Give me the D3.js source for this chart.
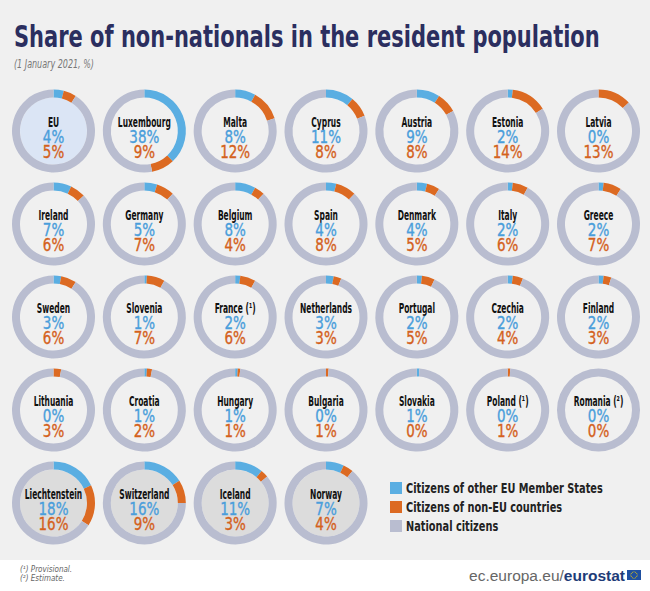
<!DOCTYPE html>
<html lang="en">
  <head>
    <meta charset="utf-8" />
    <title>Share of non-nationals</title>
    <script src="https://d3js.org/d3.v7.min.js"></script>
    <style>
      body {
        margin: 0;
        background: #fff;
      }
      text {
        font-family: "Liberation Sans Narrow", "Arial Narrow", "DejaVu Sans Condensed", sans-serif;
      }
      .title {
        font-weight: bold;
        fill: #2b2e5f;
      }
      .subtitle {
        font-style: italic;
        fill: #777;
      }
      .name {
        font-weight: bold;
        fill: #111;
      }
      .legend-text {
        font-weight: bold;
        fill: #222;
      }
    </style>
  </head>
  <body>
    <svg id="chart" width="650" height="591"></svg>
    <script>
      // data
      const countries = [
        "EU", "Luxembourg", "Malta", "Cyprus", "Austria", "Estonia", "Latvia",
        "Ireland", "Germany", "Belgium", "Spain", "Denmark", "Italy", "Greece",
        "Sweden", "Slovenia", "France (¹)", "Netherlands", "Portugal", "Czechia", "Finland",
        "Lithuania", "Croatia", "Hungary", "Bulgaria", "Slovakia", "Poland (¹)", "Romania (²)",
        "Liechtenstein", "Switzerland", "Iceland", "Norway"
      ];
      const otherEU = [
        4, 38, 8, 11, 9, 2, 0,
        7, 5, 8, 4, 4, 2, 2,
        3, 1, 2, 3, 2, 2, 2,
        0, 1, 1, 0, 1, 0, 0,
        18, 16, 11, 7
      ];
      const nonEU = [
        5, 9, 12, 8, 8, 14, 13,
        6, 7, 4, 8, 5, 6, 7,
        6, 7, 6, 3, 5, 4, 3,
        3, 2, 1, 1, 0, 1, 0,
        16, 9, 3, 4
      ];
      const groupOf = countries.map((c, i) =>
        i === 0 ? "eu" : i >= 28 ? "efta" : "member"
      );
      const legendLabels = [
        "Citizens of other EU Member States",
        "Citizens of non-EU countries",
        "National citizens"
      ];
      const footnotes = ["(¹) Provisional.", "(²) Estimate."];

      const colors = { blue: "#5aaee2", orange: "#dc6a22", gray: "#b9bdd0" };
      const textColors = { blue: "#4a9edb", orange: "#d4611c" };
      const fills = { eu: "#dbe5f5", member: "#f0f0f0", efta: "#dcdcdc" };

      const svg = d3.select("#chart");
      const width = +svg.attr("width");

      // squeeze a text horizontally so a sample string gets the width seen in the picture
      function squeeze(sample, cls, size, target) {
        const t = svg.append("text").attr("class", cls).style("font-size", size + "px").text(sample);
        const w = t.node().getComputedTextLength();
        t.remove();
        return Math.min(1, target / w);
      }

      svg.append("rect").attr("width", width).attr("height", 560).attr("fill", "#f0f0f0");

      // title
      const title = svg
        .append("text")
        .attr("class", "title")
        .attr("x", 14)
        .attr("y", 47)
        .style("font-size", "31px")
        .text("Share of non-nationals in the resident population");
      const tw = title.node().getComputedTextLength();
      title.attr("transform", `translate(14,0) scale(${586 / tw},1) translate(-14,0)`);

      const sub = svg
        .append("text")
        .attr("class", "subtitle")
        .attr("x", 14)
        .attr("y", 68)
        .style("font-size", "12px")
        .text("(1 January 2021, %)");
      const sw = sub.node().getComputedTextLength();
      sub.attr("transform", `translate(14,0) scale(${80 / sw},1) translate(-14,0)`);

      // grid scales
      const xScale = d3.scaleLinear().domain([0, 6]).range([53.5, 598.5]);
      const yScale = d3.scaleLinear().domain([0, 4]).range([131, 503]);

      const outerR = 41.5;
      const innerR = 33.5;
      const arc = d3.arc().innerRadius(innerR).outerRadius(outerR);
      const pie = d3.pie().sort(null).value((d) => d.v);

      const nameK = squeeze("Luxembourg", "name", 13.5, 53);
      const pctK = squeeze("38%", "", 17.5, 30);

      const donuts = svg
        .selectAll("g.donut")
        .data(countries.map((c, i) => ({ name: c, blue: otherEU[i], orange: nonEU[i], group: groupOf[i], i })))
        .enter()
        .append("g")
        .attr("class", "donut")
        .attr("transform", (d) => `translate(${xScale(d.i % 7)},${yScale(Math.floor(d.i / 7))})`);

      donuts
        .append("circle")
        .attr("r", innerR)
        .attr("fill", (d) => fills[d.group]);

      donuts
        .selectAll("path")
        .data((d) =>
          pie([
            { k: "blue", v: d.blue },
            { k: "orange", v: d.orange },
            { k: "gray", v: 100 - d.blue - d.orange }
          ])
        )
        .enter()
        .append("path")
        .attr("d", arc)
        .attr("fill", (d) => colors[d.data.k]);

      donuts
        .append("text")
        .attr("class", "name")
        .attr("text-anchor", "middle")
        .attr("y", -4.5)
        .attr("transform", `scale(${nameK},1)`)
        .style("font-size", "13.5px")
        .text((d) => d.name);

      donuts
        .append("text")
        .attr("text-anchor", "middle")
        .attr("y", 11.5)
        .attr("transform", `scale(${pctK},1)`)
        .attr("fill", textColors.blue)
        .attr("stroke", textColors.blue)
        .attr("stroke-width", 0.35)
        .style("font-size", "17.5px")
        .text((d) => d.blue + "%");

      donuts
        .append("text")
        .attr("text-anchor", "middle")
        .attr("y", 27)
        .attr("transform", `scale(${pctK},1)`)
        .attr("fill", textColors.orange)
        .attr("stroke", textColors.orange)
        .attr("stroke-width", 0.35)
        .style("font-size", "17.5px")
        .text((d) => d.orange + "%");

      // legend
      const legK = squeeze(legendLabels[0], "legend-text", 14.5, 197);
      const legend = svg.append("g").attr("transform", "translate(390,482)");
      legendLabels.forEach((label, i) => {
        legend
          .append("rect")
          .attr("x", 0)
          .attr("y", i * 19)
          .attr("width", 12)
          .attr("height", 12)
          .attr("fill", [colors.blue, colors.orange, colors.gray][i]);
        legend
          .append("text")
          .attr("class", "legend-text")
          .attr("x", 16 / legK)
          .attr("y", i * 19 + 11)
          .attr("transform", `scale(${legK},1)`)
          .style("font-size", "14.5px")
          .text(label);
      });

      // footer
      footnotes.forEach((f, i) => {
        svg
          .append("text")
          .attr("x", 20)
          .attr("y", 572 + i * 9)
          .attr("fill", "#666")
          .style("font-size", "8px")
          .style("font-style", "italic")
          .text(f);
      });

      const brand = svg
        .append("text")
        .attr("x", 625)
        .attr("y", 581)
        .attr("text-anchor", "end")
        .style("font-family", "'Liberation Sans', Arial, sans-serif")
        .style("font-size", "15.5px");
      brand.append("tspan").attr("fill", "#666").text("ec.europa.eu/");
      brand.append("tspan").attr("fill", "#1e3c78").attr("font-weight", "bold").text("eurostat");

      const flag = svg.append("g").attr("transform", "translate(627,570)");
      flag.append("rect").attr("width", 14).attr("height", 10).attr("fill", "#1f4fa0");
      d3.range(12).forEach((k) => {
        const a = (k / 12) * 2 * Math.PI;
        flag
          .append("circle")
          .attr("cx", 7 + 3.2 * Math.cos(a))
          .attr("cy", 5 + 3.2 * Math.sin(a))
          .attr("r", 0.5)
          .attr("fill", "#f5d000");
      });
    </script>
  </body>
</html>
